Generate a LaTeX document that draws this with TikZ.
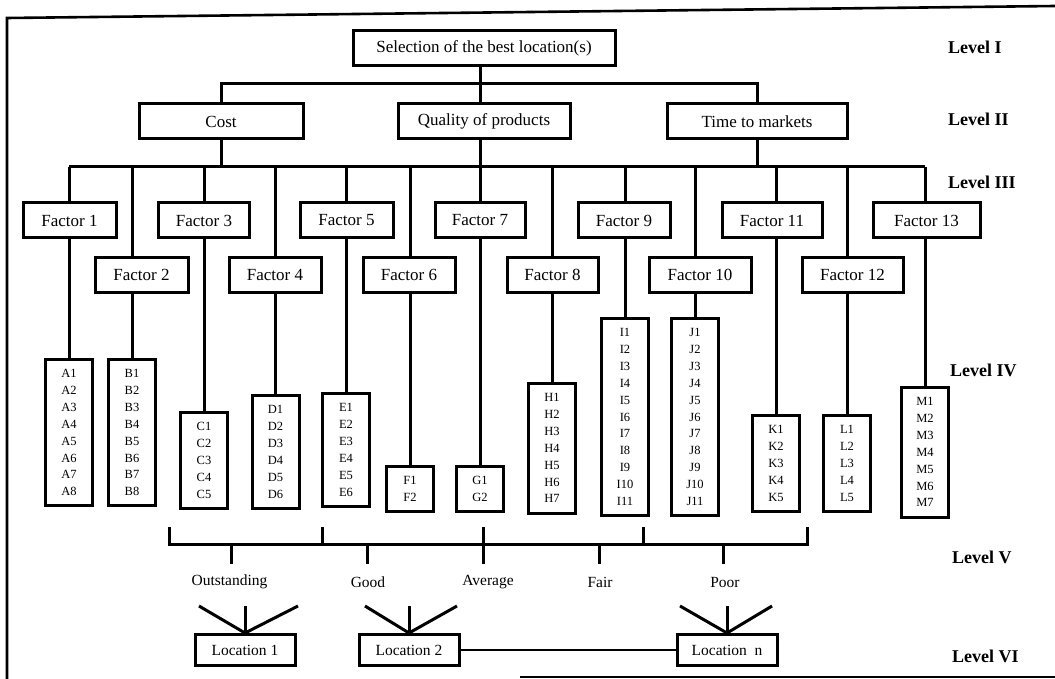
\documentclass[tikz,border=0pt]{standalone}
\usepackage{fontspec}
\setmainfont{Liberation Serif}
\begin{document}
\begin{tikzpicture}[x=1pt,y=-1pt,
  conn/.style={line width=3pt},
  thinconn/.style={line width=2.2pt},
  frameline/.style={line width=2.6pt},
  box/.style={draw,line width=3pt,minimum height=35pt,inner sep=0pt,font=\fontsize{17}{20}\selectfont},
  lbox/.style={draw,line width=3pt,minimum width=47pt,inner sep=0pt,align=center,anchor=north,font=\fontsize{12.5}{16.85}\selectfont},
  locbox/.style={draw,line width=3pt,minimum width=100pt,minimum height=31pt,inner sep=0pt,font=\fontsize{15.5}{18}\selectfont},
  rate/.style={font=\fontsize{15.5}{18}\selectfont},
  lvl/.style={anchor=west,inner sep=0pt,font=\fontsize{18}{20}\selectfont\bfseries}]
\useasboundingbox (0,0) rectangle (1055,679);
% frame
\draw[frameline] (1055,6) -- (7,18) -- (7,679);
\draw[frameline] (520,677) -- (1055,677);

% level I and II
\node[box,minimum width=262pt] (top) at (484,48.5) {Selection of the best location(s)};
\node[box,minimum width=164pt] (cost) at (221,121.5) {Cost};
\node[box,minimum width=172pt] (qual) at (484,121.5) {Quality of products};
\node[box,minimum width=180pt] (time) at (757,121.5) {Time to markets};

% factors
\node[box,minimum width=93pt]  (f1)  at (69.5,220.5) {Factor 1};
\node[box,minimum width=93pt]  (f2)  at (141.5,275) {Factor 2};
\node[box,minimum width=91pt]  (f3)  at (204,220.5) {Factor 3};
\node[box,minimum width=92pt]  (f4)  at (275,275) {Factor 4};
\node[box,minimum width=93pt]  (f5)  at (346.5,220.5) {Factor 5};
\node[box,minimum width=92pt]  (f6)  at (409,275) {Factor 6};
\node[box,minimum width=90pt]  (f7)  at (480,220.5) {Factor 7};
\node[box,minimum width=91pt]  (f8)  at (552.5,275) {Factor 8};
\node[box,minimum width=92pt]  (f9)  at (624,220.5) {Factor 9};
\node[box,minimum width=102pt] (f10) at (700,275) {Factor 10};
\node[box,minimum width=100pt] (f11) at (772,220.5) {Factor 11};
\node[box,minimum width=101pt] (f12) at (852.5,275) {Factor 12};
\node[box,minimum width=107pt] (f13) at (926.5,220.5) {Factor 13};

% lists
\node[lbox,minimum height=146.4pt] (la) at (69,358) {A1\\A2\\A3\\A4\\A5\\A6\\A7\\A8};
\node[lbox,minimum height=146.4pt] (lb) at (132,358) {B1\\B2\\B3\\B4\\B5\\B6\\B7\\B8};
\node[lbox,minimum height=95.9pt] (lc) at (204,411) {C1\\C2\\C3\\C4\\C5};
\node[lbox,minimum height=112.7pt] (ld) at (275.5,394) {D1\\D2\\D3\\D4\\D5\\D6};
\node[lbox,minimum height=112.7pt] (le) at (346,392) {E1\\E2\\E3\\E4\\E5\\E6};
\node[lbox,minimum height=45.3pt] (lf) at (410,465) {F1\\F2};
\node[lbox,minimum height=45.3pt] (lg) at (480,465) {G1\\G2};
\node[lbox,minimum height=129.6pt] (lh) at (552,382) {H1\\H2\\H3\\H4\\H5\\H6\\H7};
\node[lbox,minimum height=197pt] (li) at (625,317) {I1\\I2\\I3\\I4\\I5\\I6\\I7\\I8\\I9\\I10\\I11};
\node[lbox,minimum height=197pt] (lj) at (695,317) {J1\\J2\\J3\\J4\\J5\\J6\\J7\\J8\\J9\\J10\\J11};
\node[lbox,minimum height=95.9pt] (lk) at (776,414) {K1\\K2\\K3\\K4\\K5};
\node[lbox,minimum height=95.9pt] (ll) at (847,414) {L1\\L2\\L3\\L4\\L5};
\node[lbox,minimum height=129.6pt] (lm) at (925,386) {M1\\M2\\M3\\M4\\M5\\M6\\M7};

% level I -> II
\coordinate (b1) at (0,84);
\coordinate (b2) at (0,167);
\draw[conn] (top.south -| lg.north) -- (qual.north -| lg.north);
\draw[conn] (cost.north) -- (cost.north |- b1) -- (time.north |- b1) -- (time.north);
% level II -> III
\draw[conn] (cost.south) -- (cost.south |- b2);
\draw[conn] (qual.south -| lg.north) -- (lg.north |- b2);
\draw[conn] (time.south) -- (time.south |- b2);
\draw[conn] (la.north |- b2) -- (lm.north |- b2);
% factor connectors
\foreach \f/\l in {f1/la,f2/lb,f3/lc,f4/ld,f5/le,f6/lf,f7/lg,f8/lh,f9/li,f10/lj,f11/lk,f12/ll,f13/lm}{
  \draw[conn] (\l.north |- b2) -- (\l.north |- \f.north);
  \draw[conn] (\l.north |- \f.south) -- (\l.north);
}

% level V bracket
\coordinate (br) at (0,544);
\coordinate (u1) at (169,527);
\coordinate (u2) at (322,527);
\coordinate (u3) at (483,527);
\coordinate (u4) at (643,527);
\coordinate (u5) at (807,527);
\coordinate (d1) at (231.5,564);
\coordinate (d2) at (367.5,564);
\coordinate (d3) at (483,564);
\coordinate (d4) at (599,564);
\coordinate (d5) at (723,564);
\draw[conn] (u1) -- (u1 |- br) -- (u5 |- br) -- (u5);
\draw[conn] (u2) -- (u2 |- br);
\draw[conn] (u4) -- (u4 |- br);
\draw[conn] (u3) -- (d3);
\draw[conn] (d1 |- br) -- (d1);
\draw[conn] (d2 |- br) -- (d2);
\draw[conn] (d4 |- br) -- (d4);
\draw[conn] (d5 |- br) -- (d5);
\node[rate] (r1) at (229.5,582) {Outstanding};
\node[rate] (r2) at (368,582) {Good};
\node[rate] (r3) at (488,582) {Average};
\node[rate] (r4) at (600,582) {Fair};
\node[rate] (r5) at (725,582) {Poor};

% level VI
\node[locbox] (loc1) at (245,650) {Location 1};
\node[locbox] (loc2) at (409,650) {Location 2};
\node[locbox] (locn) at (727,650) {Location\ \ n};
\draw[conn] (loc1.north) -- ++(-46,-27);
\draw[conn] (loc1.north) -- ++(0,-27);
\draw[conn] (loc1.north) -- ++(53,-27);
\draw[conn] (loc2.north) -- ++(-44,-27);
\draw[conn] (loc2.north) -- ++(0,-27);
\draw[conn] (loc2.north) -- ++(48,-27);
\draw[conn] (locn.north) -- ++(-47,-27);
\draw[conn] (locn.north) -- ++(0,-27);
\draw[conn] (locn.north) -- ++(45,-27);
\draw[thinconn] (loc2.east) -- (locn.west);

% level labels
\node[lvl] (lv1) at (948,47) {Level I};
\node[lvl] (lv2) at (948,119) {Level II};
\node[lvl] (lv3) at (948,182) {Level III};
\node[lvl] (lv4) at (950,370) {Level IV};
\node[lvl] (lv5) at (952,557) {Level V};
\node[lvl] (lv6) at (952,656) {Level VI};
\end{tikzpicture}
\end{document}
